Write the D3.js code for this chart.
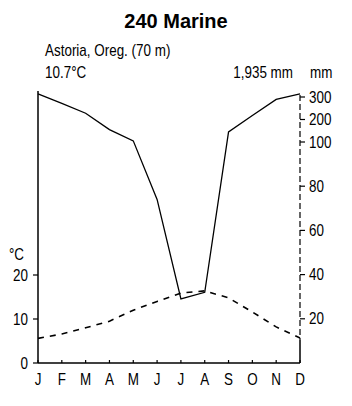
<!DOCTYPE html>
<html><head><meta charset="utf-8">
<script src="https://cdn.jsdelivr.net/npm/d3@7"></script>
<style>
body{margin:0;background:#fff;}
text{font-family:"Liberation Sans",Arial,sans-serif;fill:#000;}
</style></head><body>
<script>
const months = ["J","F","M","A","M","J","J","A","S","O","N","D"];
const temperature = [5.6, 6.6, 8.0, 9.5, 12.0, 14.0, 15.9, 16.4, 14.8, 11.6, 8.2, 5.7];
const precipitation = [314, 272, 228, 155, 105, 74, 29, 32, 145, 218, 289, 314];
const tempTicks = [0, 10, 20];
const precipTicks = [20, 40, 60, 80, 100, 200, 300];

const W = 352, H = 406;
const svg = d3.select("body").append("svg").attr("width", W).attr("height", H);

const x = d3.scaleLinear().domain([0, 11]).range([38, 300]);
const yT = d3.scaleLinear().domain([0, 50]).range([363, 143]);
const yP = d3.scaleLinear().domain([0, 100, 300]).range([363, 142, 97]);

function txt(px, py, s, size, anchor, sx) {
  return svg.append("text")
    .attr("transform", `translate(${px},${py}) scale(${sx || 0.84},1)`)
    .attr("text-anchor", anchor || "start")
    .attr("font-size", size).text(s);
}

// title and header texts
txt(176, 28, "240 Marine", 20, "middle", 1).attr("font-weight", "bold");
txt(45, 56, "Astoria, Oreg. (70 m)", 16);
txt(45, 78, "10.7°C", 16);
txt(293, 78, "1,935 mm", 16, "end");
txt(310, 78, "mm", 16);

// left axis
svg.append("line").attr("x1", 38).attr("x2", 38).attr("y1", 91).attr("y2", 363)
  .attr("stroke", "#000").attr("stroke-width", 1.5);
tempTicks.forEach(t => {
  svg.append("line").attr("x1", 33).attr("x2", 38).attr("y1", yT(t)).attr("y2", yT(t)).attr("stroke", "#000").attr("stroke-width", 1.2);
  txt(28, yT(t) + 5.5, t, 16, "end");
});
txt(9, 260, "°C", 16);

// right axis
svg.append("line").attr("x1", 300).attr("x2", 300).attr("y1", 95).attr("y2", 340)
  .attr("stroke", "#000").attr("stroke-width", 1.2).attr("stroke-dasharray", "6,3");
svg.append("line").attr("x1", 300).attr("x2", 300).attr("y1", 340).attr("y2", 363)
  .attr("stroke", "#000").attr("stroke-width", 1.5);
precipTicks.forEach(t => {
  svg.append("line").attr("x1", 300).attr("x2", 305).attr("y1", yP(t)).attr("y2", yP(t)).attr("stroke", "#000").attr("stroke-width", 1.2);
  txt(309, yP(t) + 5.5, t, 16);
});

// x axis
svg.append("line").attr("x1", 38).attr("x2", 300).attr("y1", 363).attr("y2", 363)
  .attr("stroke", "#000").attr("stroke-width", 1.5);
months.forEach((m, i) => {
  svg.append("line").attr("x1", x(i)).attr("x2", x(i)).attr("y1", 360).attr("y2", 363).attr("stroke", "#000").attr("stroke-width", 1.2);
  txt(x(i), 385, m, 16, "middle");
});

// temperature line (dashed)
svg.append("path").datum(temperature)
  .attr("d", d3.line().x((d, i) => x(i)).y(d => yT(d)))
  .attr("fill", "none").attr("stroke", "#000").attr("stroke-width", 1.6).attr("stroke-dasharray", "6,6");

// precipitation line (solid)
svg.append("path").datum(precipitation)
  .attr("d", d3.line().x((d, i) => x(i)).y(d => yP(d)))
  .attr("fill", "none").attr("stroke", "#000").attr("stroke-width", 1.3);
</script>
</body></html>
